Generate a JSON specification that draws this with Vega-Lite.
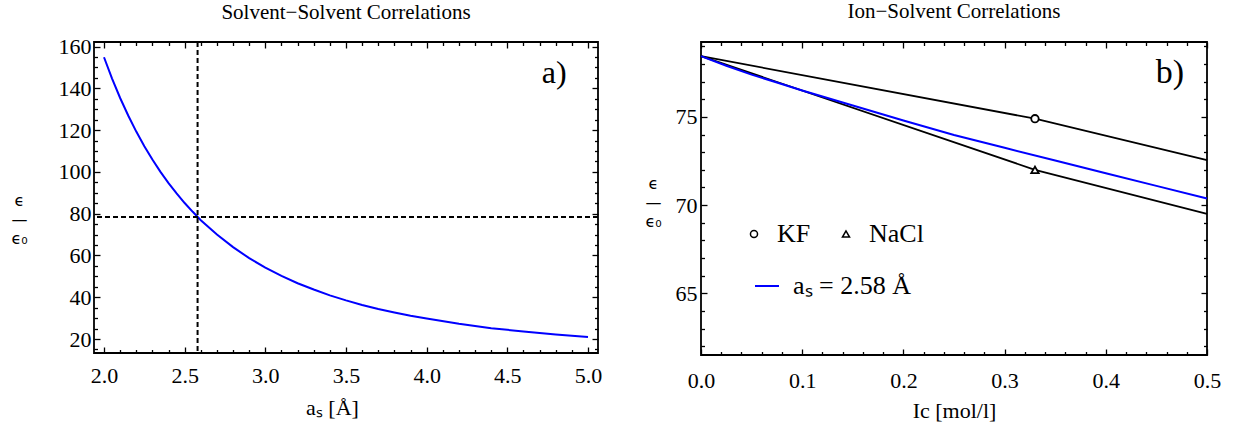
{
  "$schema": "https://vega.github.io/schema/vega-lite/v6.json",
  "padding": {"left": 9, "top": 0, "right": 0, "bottom": 0},
  "background": "white",
  "config": {
    "view": {"stroke": "black", "strokeWidth": 1.8},
    "font": "Liberation Serif",
    "axis": {
      "grid": false, "domain": false, "tickColor": "black", "tickWidth": 1.3,
      "labelFont": "Liberation Serif", "labelFontSize": 22, "labelColor": "black",
      "labelFlush": false, "labelOverlap": false,
      "titleFont": "Liberation Serif", "titleFontSize": 22, "titleFontWeight": "normal", "titleColor": "black"
    },
    "title": {"font": "Liberation Serif", "fontSize": 21, "fontWeight": "normal", "color": "black", "anchor": "middle"},
    "legend": {"labelFont": "Liberation Serif", "labelFontSize": 26, "labelColor": "black", "padding": 0}
  },
  "datasets": {
    "solvent": [
      {"a": 2.0, "eps": 154.9}, {"a": 2.05, "eps": 144.7}, {"a": 2.1, "eps": 135.4}, {"a": 2.15, "eps": 127.0},
      {"a": 2.2, "eps": 119.3}, {"a": 2.25, "eps": 112.3}, {"a": 2.3, "eps": 105.9}, {"a": 2.35, "eps": 100.0},
      {"a": 2.4, "eps": 94.6}, {"a": 2.45, "eps": 89.7}, {"a": 2.5, "eps": 85.1}, {"a": 2.55, "eps": 80.9},
      {"a": 2.6, "eps": 76.9}, {"a": 2.7, "eps": 70.0}, {"a": 2.8, "eps": 64.0}, {"a": 2.9, "eps": 58.7},
      {"a": 3.0, "eps": 54.2}, {"a": 3.1, "eps": 50.2}, {"a": 3.2, "eps": 46.7}, {"a": 3.3, "eps": 43.7},
      {"a": 3.4, "eps": 40.9}, {"a": 3.5, "eps": 38.5}, {"a": 3.6, "eps": 36.3}, {"a": 3.7, "eps": 34.4},
      {"a": 3.8, "eps": 32.7}, {"a": 3.9, "eps": 31.1}, {"a": 4.0, "eps": 29.8}, {"a": 4.2, "eps": 27.3},
      {"a": 4.4, "eps": 25.2}, {"a": 4.6, "eps": 23.6}, {"a": 4.8, "eps": 22.2}, {"a": 5.0, "eps": 21.0}
    ],
    "model": [
      {"I": 0, "eps": 78.45, "model": "aₛ = 2.58 Å"}, {"I": 0.025, "eps": 77.9, "model": "aₛ = 2.58 Å"},
      {"I": 0.05, "eps": 77.4, "model": "aₛ = 2.58 Å"}, {"I": 0.075, "eps": 76.95, "model": "aₛ = 2.58 Å"},
      {"I": 0.1, "eps": 76.5, "model": "aₛ = 2.58 Å"}, {"I": 0.15, "eps": 75.65, "model": "aₛ = 2.58 Å"},
      {"I": 0.2, "eps": 74.8, "model": "aₛ = 2.58 Å"}, {"I": 0.25, "eps": 73.98, "model": "aₛ = 2.58 Å"},
      {"I": 0.3, "eps": 73.25, "model": "aₛ = 2.58 Å"}, {"I": 0.35, "eps": 72.53, "model": "aₛ = 2.58 Å"},
      {"I": 0.4, "eps": 71.81, "model": "aₛ = 2.58 Å"}, {"I": 0.45, "eps": 71.09, "model": "aₛ = 2.58 Å"},
      {"I": 0.5, "eps": 70.37, "model": "aₛ = 2.58 Å"}
    ],
    "salts": [
      {"salt": "KF", "I": 0, "eps": 78.45}, {"salt": "KF", "I": 0.33, "eps": 74.9}, {"salt": "KF", "I": 0.5, "eps": 72.55},
      {"salt": "NaCl", "I": 0, "eps": 78.45}, {"salt": "NaCl", "I": 0.33, "eps": 72.0}, {"salt": "NaCl", "I": 0.5, "eps": 69.5}
    ],
    "markers": [
      {"salt": "KF", "I": 0.33, "eps": 74.9}, {"salt": "NaCl", "I": 0.33, "eps": 72.0}
    ]
  },
  "spacing": 40,
  "hconcat": [
    {
      "width": 504, "height": 311,
      "title": {"text": "Solvent−Solvent Correlations", "offset": 13},
      "resolve": {"axis": {"x": "independent", "y": "independent"}},
      "layer": [
        {
          "data": {"name": "solvent"},
          "mark": {"type": "line", "color": "#0000ff", "strokeWidth": 2},
          "encoding": {
            "x": {"field": "a", "type": "quantitative",
              "scale": {"domain": [1.938, 5.062], "nice": false, "zero": false},
              "axis": {"orient": "bottom", "title": "aₛ [Å]", "titleX": 238, "titleY": 54, "titleBaseline": "middle", "titleAlign": "center",
                "values": [2, 2.1, 2.2, 2.3, 2.4, 2.5, 2.6, 2.7, 2.8, 2.9, 3, 3.1, 3.2, 3.3, 3.4, 3.5, 3.6, 3.7, 3.8, 3.9, 4, 4.1, 4.2, 4.3, 4.4, 4.5, 4.6, 4.7, 4.8, 4.9, 5],
                "labelExpr": "abs(datum.value*2-round(datum.value*2))<0.001 ? format(datum.value,'.1f') : ''",
                "tickSize": {"condition": {"test": "abs(datum.value*2-round(datum.value*2))<0.001", "value": -6}, "value": -3.5},
                "labelPadding": 18}},
            "y": {"field": "eps", "type": "quantitative",
              "scale": {"domain": [13.3, 162.2], "nice": false, "zero": false},
              "axis": {"orient": "left", "title": ["ϵ", "—", "ϵ₀"], "titleFont": "DejaVu Sans", "titleFontSize": 16, "titleAngle": 0,
                "titleAlign": "center", "titleBaseline": "middle", "titleLineHeight": 19, "titleX": -75, "titleY": 158,
                "values": [15, 20, 25, 30, 35, 40, 45, 50, 55, 60, 65, 70, 75, 80, 85, 90, 95, 100, 105, 110, 115, 120, 125, 130, 135, 140, 145, 150, 155, 160],
                "labelExpr": "datum.value%20==0 ? datum.label : ''",
                "tickSize": {"condition": {"test": "datum.value%20==0", "value": -6}, "value": -3.5},
                "labelPadding": 9}}
          }
        },
        {
          "data": {"values": [{"a": 2.58}]},
          "mark": {"type": "rule", "color": "black", "strokeWidth": 2, "strokeDash": [5, 3]},
          "encoding": {
            "x": {"field": "a", "type": "quantitative",
              "axis": {"orient": "top", "title": null, "labels": false,
                "values": [2, 2.1, 2.2, 2.3, 2.4, 2.5, 2.6, 2.7, 2.8, 2.9, 3, 3.1, 3.2, 3.3, 3.4, 3.5, 3.6, 3.7, 3.8, 3.9, 4, 4.1, 4.2, 4.3, 4.4, 4.5, 4.6, 4.7, 4.8, 4.9, 5],
                "tickSize": {"condition": {"test": "abs(datum.value*2-round(datum.value*2))<0.001", "value": -6}, "value": -3.5}}}
          }
        },
        {
          "data": {"values": [{"eps": 78.4}]},
          "mark": {"type": "rule", "color": "black", "strokeWidth": 2, "strokeDash": [5, 3]},
          "encoding": {
            "y": {"field": "eps", "type": "quantitative",
              "axis": {"orient": "right", "title": null, "labels": false,
                "values": [15, 20, 25, 30, 35, 40, 45, 50, 55, 60, 65, 70, 75, 80, 85, 90, 95, 100, 105, 110, 115, 120, 125, 130, 135, 140, 145, 150, 155, 160],
                "tickSize": {"condition": {"test": "datum.value%20==0", "value": -6}, "value": -3.5}}}
          }
        },
        {
          "data": {"values": [{"a": 4.79, "eps": 147.2, "label": "a)"}]},
          "mark": {"type": "text", "font": "Liberation Serif", "fontSize": 32, "align": "center", "baseline": "middle", "color": "black"},
          "encoding": {
            "x": {"field": "a", "type": "quantitative", "axis": null},
            "y": {"field": "eps", "type": "quantitative", "axis": null},
            "text": {"field": "label"}
          }
        }
      ]
    },
    {
      "width": 506, "height": 313,
      "title": {"text": "Ion−Solvent Correlations", "offset": 13},
      "resolve": {"axis": {"x": "independent", "y": "independent"}},
      "layer": [
        {
          "data": {"name": "salts"},
          "mark": {"type": "line", "color": "black", "strokeWidth": 1.8},
          "encoding": {
            "detail": {"field": "salt"},
            "x": {"field": "I", "type": "quantitative",
              "scale": {"domain": [0, 0.5], "nice": false, "zero": false},
              "axis": {"orient": "top", "title": null, "labels": false,
                "values": [0, 0.02, 0.04, 0.06, 0.08, 0.1, 0.12, 0.14, 0.16, 0.18, 0.2, 0.22, 0.24, 0.26, 0.28, 0.3, 0.32, 0.34, 0.36, 0.38, 0.4, 0.42, 0.44, 0.46, 0.48, 0.5],
                "tickSize": {"condition": {"test": "abs(datum.value*10-round(datum.value*10))<0.001", "value": -6}, "value": -3.5}}},
            "y": {"field": "eps", "type": "quantitative",
              "scale": {"domain": [61.5, 79.25], "nice": false, "zero": false},
              "axis": {"orient": "right", "title": null, "labels": false,
                "values": [62, 63, 64, 65, 66, 67, 68, 69, 70, 71, 72, 73, 74, 75, 76, 77, 78, 79],
                "tickSize": {"condition": {"test": "datum.value%5==0", "value": -6}, "value": -3.5}}}
          }
        },
        {
          "data": {"name": "model"},
          "mark": {"type": "line", "strokeWidth": 2},
          "encoding": {
            "x": {"field": "I", "type": "quantitative",
              "axis": {"orient": "bottom", "title": "Ic [mol/l]", "titleY": 55, "titleBaseline": "middle", "titleAlign": "center",
                "values": [0, 0.02, 0.04, 0.06, 0.08, 0.1, 0.12, 0.14, 0.16, 0.18, 0.2, 0.22, 0.24, 0.26, 0.28, 0.3, 0.32, 0.34, 0.36, 0.38, 0.4, 0.42, 0.44, 0.46, 0.48, 0.5],
                "labelExpr": "abs(datum.value*10-round(datum.value*10))<0.001 ? format(datum.value,'.1f') : ''",
                "tickSize": {"condition": {"test": "abs(datum.value*10-round(datum.value*10))<0.001", "value": -6}, "value": -3.5},
                "labelPadding": 21}},
            "y": {"field": "eps", "type": "quantitative",
              "axis": {"orient": "left", "title": ["ϵ", "—", "ϵ₀"], "titleFont": "DejaVu Sans", "titleFontSize": 16, "titleAngle": 0,
                "titleAlign": "center", "titleBaseline": "middle", "titleLineHeight": 19, "titleX": -48, "titleY": 141,
                "values": [62, 63, 64, 65, 66, 67, 68, 69, 70, 71, 72, 73, 74, 75, 76, 77, 78, 79],
                "labelExpr": "datum.value%5==0 ? datum.label : ''",
                "tickSize": {"condition": {"test": "datum.value%5==0", "value": -6}, "value": -3.5},
                "labelPadding": 10}},
            "color": {"field": "model", "type": "nominal",
              "scale": {"domain": ["aₛ = 2.58 Å"], "range": ["#0000ff"]},
              "legend": {"orient": "none", "legendX": 660, "legendY": 231, "title": null, "symbolType": "stroke",
                "symbolSize": 576, "symbolStrokeWidth": 2, "labelOffset": 13, "labelBaseline": "middle"}}
          }
        },
        {
          "data": {"name": "markers"},
          "mark": {"type": "point", "filled": true, "fill": "white", "stroke": "black", "strokeWidth": 1.8, "size": 55, "opacity": 1},
          "encoding": {
            "x": {"field": "I", "type": "quantitative", "axis": null},
            "y": {"field": "eps", "type": "quantitative", "axis": null},
            "shape": {"field": "salt", "type": "nominal",
              "scale": {"domain": ["KF", "NaCl"], "range": ["circle", "triangle-up"]},
              "legend": {"orient": "none", "legendX": 647, "legendY": 179, "title": null, "direction": "horizontal",
                "symbolSize": 50, "labelOffset": 10, "columnPadding": 22, "gridAlign": "none", "labelBaseline": "middle",
                "encode": {"symbols": {"update": {"fill": {"value": "white"}, "stroke": {"value": "black"}, "strokeWidth": {"value": 1.8}, "opacity": {"value": 1}}}}}}
          }
        },
        {
          "data": {"values": [{"I": 0.4634, "eps": 77.47, "label": "b)"}]},
          "mark": {"type": "text", "font": "Liberation Serif", "fontSize": 34, "align": "center", "baseline": "middle", "color": "black"},
          "encoding": {
            "x": {"field": "I", "type": "quantitative", "axis": null},
            "y": {"field": "eps", "type": "quantitative", "axis": null},
            "text": {"field": "label"}
          }
        }
      ]
    }
  ]
}
